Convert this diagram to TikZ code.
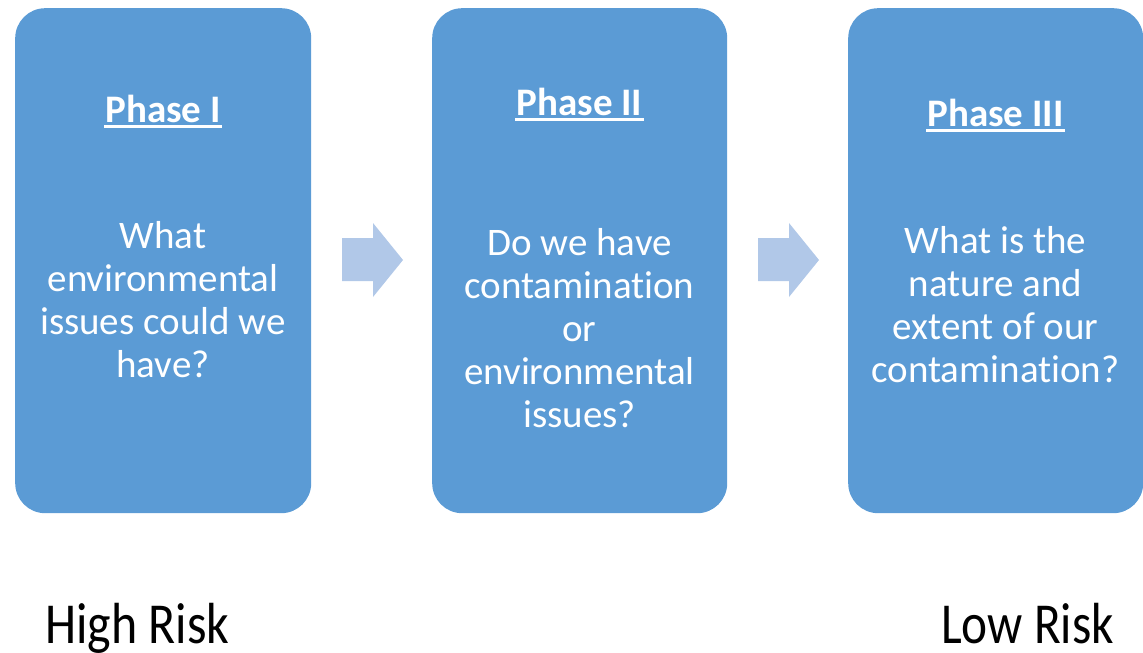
\documentclass[tikz,border=0pt]{standalone}
\usepackage{fontspec}
\usepackage{graphicx}
\setmainfont{Carlito}[Ligatures=NoCommon]
\definecolor{boxblue}{HTML}{5B9BD5}
\definecolor{arrowblue}{HTML}{B1C8E8}
\begin{document}
\begin{tikzpicture}[x=1pt,y=-1pt,
  phasebox/.style={draw=none, fill=boxblue, rounded corners=30pt, minimum height=505pt, inner sep=0pt, anchor=north west},
  head/.style={text=white, font=\fontsize{39}{43}\selectfont\bfseries, anchor=base, inner sep=0pt},
  body/.style={text=white, font=\fontsize{39}{43}\selectfont, align=center, anchor=base, inner sep=0pt},
  risk/.style={font=\fontsize{58}{60}\selectfont, anchor=base west, inner sep=0pt},
  ulinestyle/.style={white, line width=2.5pt},
  flow/.style={fill=arrowblue}]
\useasboundingbox (0,0) rectangle (1143,653);
% boxes
\node[phasebox, minimum width=296pt] (p1) at (15,8) {};
\node[phasebox, minimum width=295pt] (p2) at (432,8) {};
\node[phasebox, minimum width=295pt] (p3) at (848,8) {};
% headings
\node[head] (h1) at (163,122) {Phase I};
\node[head] (h2) at (579.5,115) {Phase II};
\node[head] (h3) at (995.5,126) {Phase III};
\foreach \h in {h1,h2,h3}
  \draw[ulinestyle] ([yshift=-4.5pt,xshift=-1pt]\h.base west) -- ([yshift=-4.5pt,xshift=1pt]\h.base east);
% body texts (anchored at the baseline of the last line)
\node[body] (b1) at (163,377) {What\\environmental\\issues could we\\have?};
\node[body] (b2) at (579.5,427) {Do we have\\contamination\\or\\environmental\\issues?};
\node[body] (b3) at (995.5,382) {What is the\\nature and\\extent of our\\contamination?};
% block arrows
\fill[flow] (342,238) -- (373,238) -- (373,223) -- (403,260) -- (373,297) -- (373,281) -- (342,281) -- cycle;
\fill[flow] (758,238) -- (789,238) -- (789,223) -- (819,260) -- (789,297) -- (789,281) -- (758,281) -- cycle;
% risk labels
\node[risk] (hr) at (45,643) {\scalebox{0.86}[1]{High Risk}};
\node[risk] (lr) at (941,643) {\scalebox{0.85}[1]{Low Risk}};
\end{tikzpicture}
\end{document}
